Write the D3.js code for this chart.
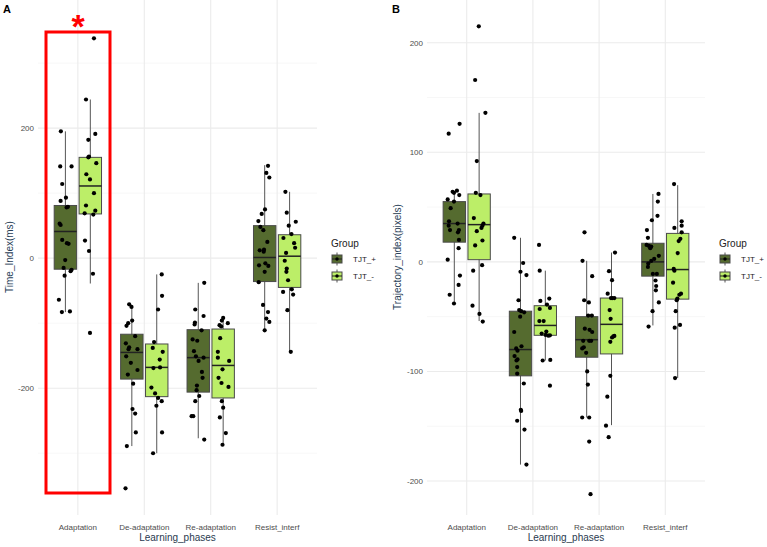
<!DOCTYPE html>
<html>
<head>
<meta charset="utf-8">
<script src="https://cdn.jsdelivr.net/npm/d3@7"></script>
<style>
  body { margin: 0; background: #fff; }
  text { font-family: "Liberation Sans", Arial, sans-serif; }
</style>
</head>
<body>
<div id="chart"></div>
<script>
const phases = ["Adaptation", "De-adaptation", "Re-adaptation", "Resist_interf"];
const groups = ["TJT_+", "TJT_-"];
const groupColors = ["#556B2F", "#BCEE68"];

// box stats per phase: [lower whisker, q1, median, q3, upper whisker]
const timeBoxPlus  = [[-83, -17, 41, 81, 195], [-289, -186, -145, -117, -76], [-277, -206, -153, -110, -38], [-111, -36, 1, 50, 143]];
const timeBoxMinus = [[-39, 68, 111, 155, 244], [-300, -213, -168, -132, -25], [-285, -215, -165, -109, -92], [-144, -45, 3, 36, 102]];
const trajBoxPlus  = [[-38, 18, 35, 55, 64], [-185, -104, -80, -45, 22], [-142, -87, -71, -50, 1], [-58, -13, 0, 17, 62]];
const trajBoxMinus = [[-54, 2, 34, 62, 136], [-90, -67, -58, -40, -8], [-149, -84, -57, -33, 8.5], [-106, -34, -7, 26, 70]];

// points per phase: [value, jitter (-1..1)]
const timePtsPlus = [
  [[195,-0.68],[141,-0.78],[141,0.93],[114,-0.48],[93,0.08],[88,-0.72],[79,0.38],[78,0.18],[53,-0.87],[51,-0.72],[28,-0.48],[22,0.48],[23,0.23],[-3,-0.03],[-15,-0.27],[-18,0.93],[-20,0.78],[-27,-0.12],[-64,-0.98],[-83,-0.53],[-82,0.68]],
  [[-71,-0.4],[-75,-0.05],[-96,0.05],[-100,-0.55],[-104,-0.8],[-120,0.5],[-131,-0.9],[-137,-0.4],[-140,0.85],[-140,-0.5],[-151,-0.85],[-161,-0.15],[-172,0.85],[-179,-0.6],[-193,0.2],[-232,0.1],[-239,0.5],[-268,0.6],[-289,-0.75],[-354,-0.95]],
  [[-38,0.9],[-79,-0.45],[-89,0.8],[-99,-0.5],[-102,-0.55],[-111,0.5],[-125,-0.85],[-127,-0.15],[-143,-0.65],[-151,-0.35],[-153,0.8],[-158,0.05],[-175,0.55],[-184,0.65],[-196,-0.2],[-203,-0.25],[-212,0.15],[-220,-0.45],[-243,-1],[-243,-0.75],[-279,0.9]],
  [[142,0.5],[131,0.25],[124,0.7],[75,0.05],[68,-0.45],[57,-0.95],[48,-0.65],[43,-0.2],[25,0.4],[13,-0.1],[12,-0.75],[10,-0.15],[-8,0.1],[-12,0.55],[-11,-0.85],[-21,0],[-37,-0.9],[-72,-0.25],[-83,0.5],[-93,0.25],[-98,0.7],[-111,0]]
];
const timePtsMinus = [
  [[338,0.55],[244,-0.65],[191,0.75],[182,-0.3],[156,-0.2],[155,-0.3],[146,0.9],[129,-0.6],[121,-0.05],[100,0.55],[81,-0.65],[73,0.75],[69,-0.85],[67,0.45],[27,-0.8],[11,-0.2],[-24,0.4],[-115,-0.05]],
  [[-25,0.75],[-58,0.8],[-79,0.2],[-129,-0.4],[-138,-0.6],[-144,0.9],[-156,0.45],[-169,-0.5],[-168,0.5],[-199,-0.8],[-208,-0.25],[-215,0.2],[-220,0.75],[-227,-0.05],[-268,0.8],[-300,-0.55]],
  [[-92,0],[-96,-0.2],[-103,-0.55],[-105,-0.3],[-100,0.7],[-123,-0.45],[-144,-0.8],[-153,-0.8],[-158,0.9],[-171,-0.1],[-184,-0.7],[-192,-0.25],[-198,0.8],[-220,-0.2],[-230,0],[-245,-0.5],[-269,0.4],[-287,-0.1]],
  [[102,-0.63],[70,-0.43],[56,0.93],[50,-0.13],[37,0.28],[31,-0.93],[23,0.68],[16,0.83],[8,-0.53],[-4,-0.73],[-16,-0.43],[-21,-0.48],[-34,-0.23],[-48,0.33],[-52,-0.98],[-56,0.53],[-80,-0.33],[-144,0.18]]
];
const trajPtsPlus = [
  [[126,0.8],[117,-0.85],[64,-0.25],[65,0.4],[63,-0.05],[61,0.75],[57,-1],[55,-0.05],[49,-0.55],[37,-0.8],[35,0.5],[33,-0.85],[29,-0.65],[29,0.7],[27,0.55],[20,0.7],[12.5,0.65],[2,-1],[-12.5,0.85],[-21,0.65],[-30,-0.7],[-38,-0.05]],
  [[22,-0.95],[-1,0.4],[-9,0],[-12,0.9],[-35,-0.3],[-44,-0.2],[-45,0.1],[-46,0.55],[-50,-0.05],[-64,-0.95],[-77,0.15],[-79,-0.65],[-81,-0.45],[-86,-0.9],[-89,-0.45],[-90,-0.6],[-96,-0.5],[-102,-0.5],[-111,0.5],[-135,0.05],[-136,0.1],[-145,-0.5],[-153,0.6],[-185,0.9]],
  [[27,-0.33],[1,-0.63],[-13,0.83],[-35,-0.38],[-37,0.33],[-49,0.23],[-49,0.78],[-61,-0.28],[-62,0.43],[-64,0.83],[-72,-0.53],[-72,0.38],[-72,0.68],[-79,-0.68],[-78,-0.43],[-83,-0.08],[-100,0.08],[-112,0.18],[-142,-0.68],[-142,0.38],[-164,0.38],[-212,0.58]],
  [[62,0.85],[55,0.75],[42,0.7],[38,-0.15],[29,-0.9],[22,-0.75],[15.5,-0.95],[14.6,-0.6],[14,-0.25],[12.5,-0.4],[5.5,0.9],[2.7,0.2],[-1.5,-0.7],[0.9,-0.25],[-4.6,-0.75],[-11,0],[-11,0.6],[-17,0.4],[-22,0.5],[-26,0.45],[-37,0.9],[-45,-0.05],[-59,-0.65]]
];
const trajPtsMinus = [
  [[215,-0.05],[166,-0.6],[136,0.95],[92,-0.35],[63,-0.5],[61,0.2],[40,-0.8],[35,0.65],[33,0.5],[31,0.35],[28,-0.35],[15,-0.6],[19.5,0.5],[-3,0.45],[-8,-0.9],[-40,-1],[-47.5,0.05],[-54.5,0.55]],
  [[15.5,-0.95],[-8,-0.85],[-33.5,0.6],[-35.6,-0.75],[-39,0.25],[-43,-0.85],[-42,0.7],[-54,-0.9],[-54,-0.25],[-63.6,0.15],[-65.4,-0.55],[-66.7,0.05],[-67.3,0.45],[-67,0.7],[-90,-0.4],[-89.5,0.75],[-113,0.7]],
  [[8.5,0.53],[-8.5,-0.38],[-16.7,0.08],[-29,-0.58],[-33,-0.08],[-33,0.43],[-33,0.13],[-44,-0.28],[-52,-0.13],[-68,0.28],[-69,0.08],[-67.6,0.43],[-73,-0.18],[-104,-0.18],[-123,-0.63],[-149.5,-0.83],[-160,-0.43]],
  [[71,-0.55],[31,-0.5],[37,0.6],[33,0.6],[27,0.6],[21,0.4],[19,0.15],[8,0],[-6.4,-0.6],[-8,-0.5],[-19,-0.7],[-29,0.5],[-30,0.25],[-33.5,-0.05],[-35,-0.15],[-45,-0.3],[-60,-0.45],[-57.5,0.35],[-106,-0.4]]
];

const timeTicks = [-200, 0, 200];
const timeMinor = [-300, -100, 100, 300];
const trajTicks = [-200, -100, 0, 100, 200];
const trajMinor = [-150, -50, 50, 150];

const width = 767, height = 547;

const svg = d3.select("#chart").append("svg")
  .attr("width", width)
  .attr("height", height)
  .style("display", "block");

svg.append("rect").attr("width", width).attr("height", height).attr("fill", "#fff");

function drawPanel(p) {
  const g = svg.append("g");
  const x = d3.scalePoint().domain(phases).range([p.left, p.right]).padding(0.6);
  const step = x.step();
  const y = d3.scaleLinear().domain(p.yDomain).range([515, 0]);

  // grid
  g.selectAll(".minor").data(p.minor).join("line")
    .attr("x1", p.left).attr("x2", p.right)
    .attr("y1", d => y(d)).attr("y2", d => y(d))
    .attr("stroke", "#F2F2F2").attr("stroke-width", 0.6);
  g.selectAll(".major").data(p.ticks).join("line")
    .attr("x1", p.left).attr("x2", p.right)
    .attr("y1", d => y(d)).attr("y2", d => y(d))
    .attr("stroke", "#EBEBEB").attr("stroke-width", 1.1);
  g.selectAll(".vgrid").data(phases).join("line")
    .attr("x1", d => x(d)).attr("x2", d => x(d))
    .attr("y1", 0).attr("y2", 515)
    .attr("stroke", "#EBEBEB").attr("stroke-width", 1.1);

  // y axis labels
  g.selectAll(".ytick").data(p.ticks).join("text")
    .attr("x", p.left - 4).attr("y", d => y(d))
    .attr("dy", "0.35em").attr("text-anchor", "end")
    .attr("font-size", 8).attr("fill", "#4D4D4D")
    .text(d => d);
  // x axis labels
  g.selectAll(".xtick").data(phases).join("text")
    .attr("x", d => x(d)).attr("y", 530)
    .attr("text-anchor", "middle")
    .attr("font-size", 8).attr("fill", "#4D4D4D")
    .text(d => d);

  g.append("text")
    .attr("x", (p.left + p.right) / 2).attr("y", 541)
    .attr("text-anchor", "middle").attr("font-size", 10).attr("fill", "#2a3a4f")
    .text("Learning_phases");
  g.append("text")
    .attr("transform", `translate(${p.titleX},257) rotate(-90)`)
    .attr("text-anchor", "middle").attr("font-size", 10).attr("fill", "#2a3f58")
    .text(p.yTitle);

  const boxW = 0.3375 * step;
  [p.boxPlus, p.boxMinus].forEach((boxes, gi) => {
    const off = (gi === 0 ? -0.1875 : 0.1875) * step;
    const bg = g.append("g");
    phases.forEach((ph, i) => {
      const s = boxes[i];
      const cx = x(ph) + off;
      bg.append("line").attr("x1", cx).attr("x2", cx)
        .attr("y1", y(s[0])).attr("y2", y(s[4]))
        .attr("stroke", "#555").attr("stroke-width", 1);
      bg.append("rect")
        .attr("x", cx - boxW / 2).attr("width", boxW)
        .attr("y", y(s[3])).attr("height", y(s[1]) - y(s[3]))
        .attr("fill", groupColors[gi]).attr("stroke", "#4a4a4a").attr("stroke-width", 1);
      bg.append("line")
        .attr("x1", cx - boxW / 2).attr("x2", cx + boxW / 2)
        .attr("y1", y(s[2])).attr("y2", y(s[2]))
        .attr("stroke", "#222").attr("stroke-width", 1.5);
    });
  });

  [p.ptsPlus, p.ptsMinus].forEach((pts, gi) => {
    const off = (gi === 0 ? -0.1875 : 0.1875) * step;
    phases.forEach((ph, i) => {
      g.append("g").selectAll("circle").data(pts[i]).join("circle")
        .attr("cx", d => x(ph) + off + d[1] * 0.1 * step)
        .attr("cy", d => y(d[0]))
        .attr("r", 2.1).attr("fill", "#000");
    });
  });

  // legend
  const lg = svg.append("g").attr("transform", `translate(${p.legendX},0)`);
  lg.append("text").attr("x", 0).attr("y", 247).attr("font-size", 10).attr("fill", "#222").text("Group");
  groups.forEach((grp, gi) => {
    const cy = 259 + gi * 17;
    lg.append("line").attr("x1", 6).attr("x2", 6).attr("y1", cy - 6.5).attr("y2", cy + 6.5)
      .attr("stroke", "#555").attr("stroke-width", 1);
    lg.append("rect").attr("x", 1).attr("y", cy - 4).attr("width", 10).attr("height", 8)
      .attr("fill", groupColors[gi]).attr("stroke", "#4a4a4a").attr("stroke-width", 1);
    lg.append("line").attr("x1", 1).attr("x2", 11).attr("y1", cy).attr("y2", cy)
      .attr("stroke", "#222").attr("stroke-width", 1);
    lg.append("circle").attr("cx", 6).attr("cy", cy).attr("r", 1.7).attr("fill", "#000");
    lg.append("text").attr("x", 22).attr("y", cy).attr("dy", "0.35em")
      .attr("font-size", 8).attr("fill", "#222").text(grp);
  });
}

drawPanel({
  left: 38, right: 317, yDomain: [-395, 397],
  ticks: timeTicks, minor: timeMinor, yTitle: "Time_Index(ms)", titleX: 13,
  boxPlus: timeBoxPlus, boxMinus: timeBoxMinus, ptsPlus: timePtsPlus, ptsMinus: timePtsMinus,
  legendX: 331
});
drawPanel({
  left: 427, right: 705, yDomain: [-231, 239],
  ticks: trajTicks, minor: trajMinor, yTitle: "Trajectory_index(pixels)", titleX: 401,
  boxPlus: trajBoxPlus, boxMinus: trajBoxMinus, ptsPlus: trajPtsPlus, ptsMinus: trajPtsMinus,
  legendX: 719
});

// panel tags
svg.append("text").attr("x", 3).attr("y", 13).attr("font-size", 11).attr("font-weight", "bold").text("A");
svg.append("text").attr("x", 392).attr("y", 13).attr("font-size", 11).attr("font-weight", "bold").text("B");

// highlight box and asterisk
svg.append("rect").attr("x", 46).attr("y", 32).attr("width", 64).attr("height", 461)
  .attr("fill", "none").attr("stroke", "#FF0000").attr("stroke-width", 3);
svg.append("text").attr("x", 78).attr("y", 38).attr("text-anchor", "middle")
  .attr("font-size", 34).attr("font-weight", "bold").attr("fill", "#FF0000").text("*");
</script>
</body>
</html>
